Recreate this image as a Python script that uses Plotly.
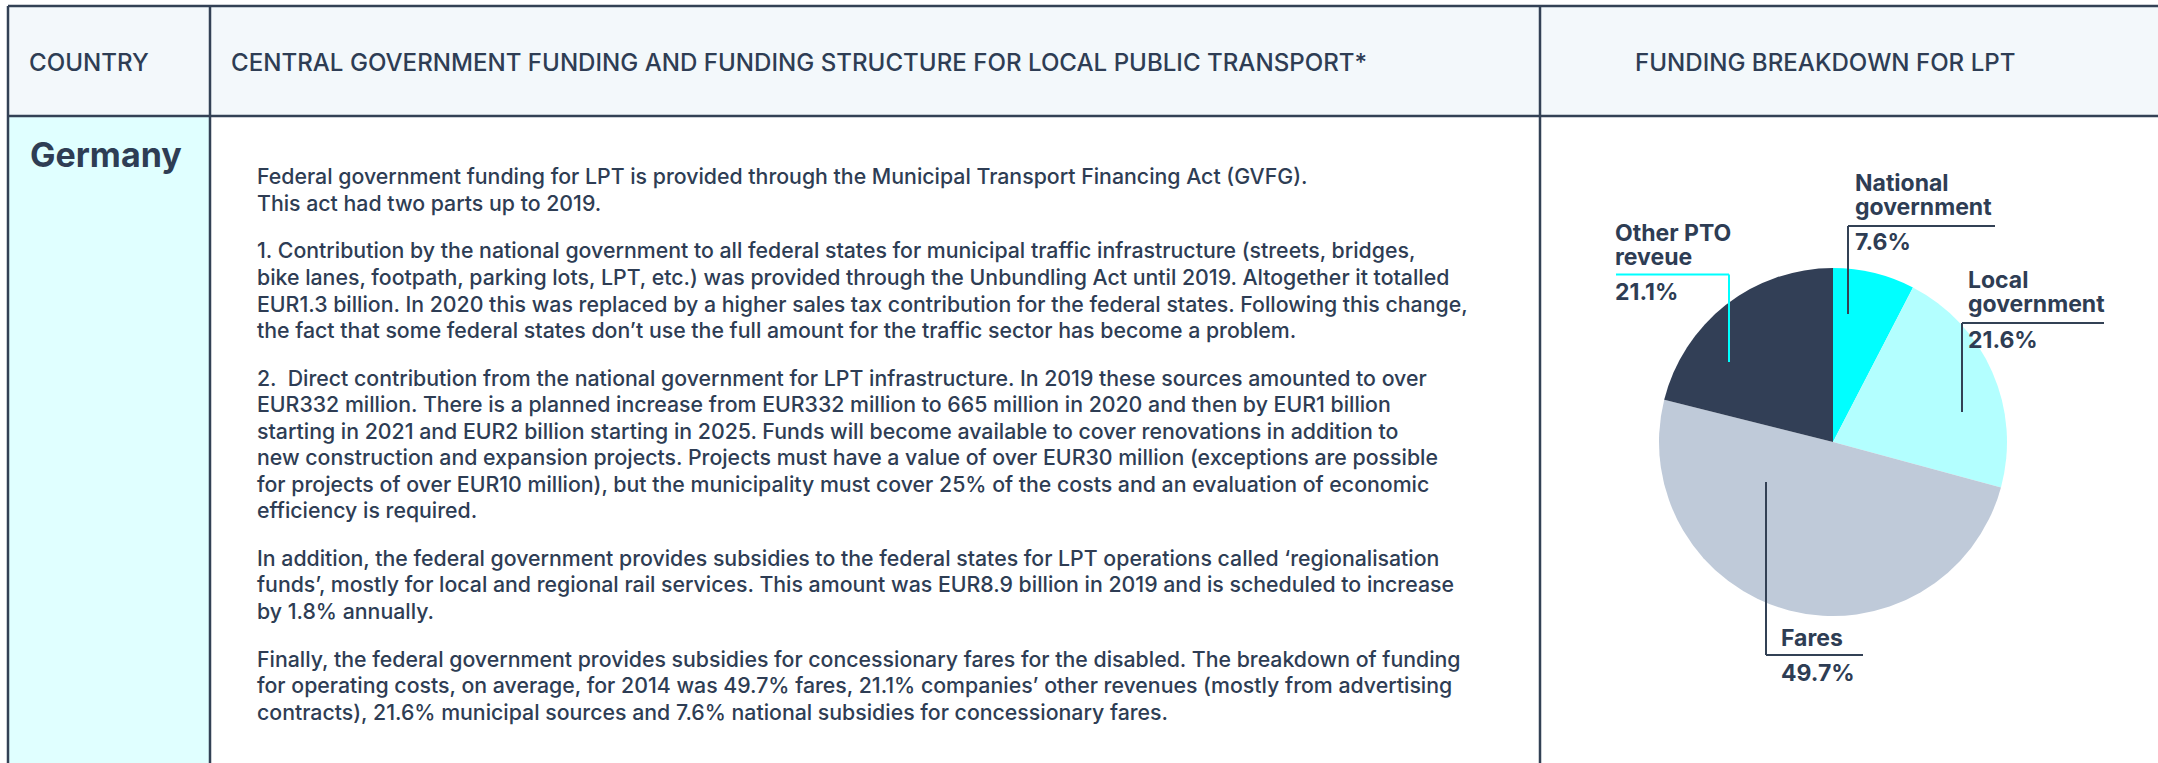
import plotly.graph_objects as go

W, H = 2158, 763

# ---------------- data ----------------
headers = ["COUNTRY",
           "CENTRAL GOVERNMENT FUNDING AND FUNDING STRUCTURE FOR LOCAL PUBLIC TRANSPORT*",
           "FUNDING BREAKDOWN FOR LPT"]
country = "Germany"

paragraphs = [
    ["Federal government funding for LPT is provided through the Municipal Transport Financing Act (GVFG).",
     "This act had two parts up to 2019."],
    ["1. Contribution by the national government to all federal states for municipal traffic infrastructure (streets, bridges,",
     "bike lanes, footpath, parking lots, LPT, etc.) was provided through the Unbundling Act until 2019. Altogether it totalled",
     "EUR1.3 billion. In 2020 this was replaced by a higher sales tax contribution for the federal states. Following this change,",
     "the fact that some federal states don\u2019t use the full amount for the traffic sector has become a problem."],
    ["2.  Direct contribution from the national government for LPT infrastructure. In 2019 these sources amounted to over",
     "EUR332 million. There is a planned increase from EUR332 million to 665 million in 2020 and then by EUR1 billion",
     "starting in 2021 and EUR2 billion starting in 2025. Funds will become available to cover renovations in addition to",
     "new construction and expansion projects. Projects must have a value of over EUR30 million (exceptions are possible",
     "for projects of over EUR10 million), but the municipality must cover 25% of the costs and an evaluation of economic",
     "efficiency is required."],
    ["In addition, the federal government provides subsidies to the federal states for LPT operations called \u2018regionalisation",
     "funds\u2019, mostly for local and regional rail services. This amount was EUR8.9 billion in 2019 and is scheduled to increase",
     "by 1.8% annually."],
    ["Finally, the federal government provides subsidies for concessionary fares for the disabled. The breakdown of funding",
     "for operating costs, on average, for 2014 was 49.7% fares, 21.1% companies\u2019 other revenues (mostly from advertising",
     "contracts), 21.6% municipal sources and 7.6% national subsidies for concessionary fares."],
]

slice_labels = ["National government", "Local government", "Fares", "Other PTO reveue"]
slice_label_lines = [["National", "government"], ["Local", "government"], ["Fares"], ["Other PTO", "reveue"]]
slice_values = [7.6, 21.6, 49.7, 21.1]
slice_colors = ["#00ffff", "#b3ffff", "#bfcad9", "#323f56"]

# ---------------- style ----------------
INK = "#2e3d54"
LINE = "#334155"
FONT = "Inter"
PAD = 3  # annotation box padding compensation

def px(x):
    return x / W

def py(y):
    return 1 - y / H

annotations = []

def text(x, baseline, s, size, bold=False, color=INK, weight=None):
    if bold:
        s = "<b>" + s + "</b>"
    f = dict(family=FONT, size=size, color=color)
    if weight:
        f["weight"] = weight
    annotations.append(dict(
        x=px(x - PAD), y=py(baseline - 0.36 * size), xref="paper", yref="paper",
        xanchor="left", yanchor="middle", text=s, showarrow=False,
        font=f, align="left"))

shapes = []

def rect(x0, y0, x1, y1, fill):
    shapes.append(dict(type="rect", xref="paper", yref="paper",
                       x0=px(x0), x1=px(x1), y0=py(y1), y1=py(y0),
                       fillcolor=fill, line=dict(width=0), layer="below"))

def seg(x0, y0, x1, y1, color=LINE, width=2.5):
    shapes.append(dict(type="line", xref="paper", yref="paper",
                       x0=px(x0), x1=px(x1), y0=py(y0), y1=py(y1),
                       line=dict(color=color, width=width)))

# table backgrounds
rect(8, 6, W, 116, "#f3f8fb")
rect(8, 116, 210, H, "#e0ffff")

# table lines
seg(8, 6, W, 6)
seg(8, 116, W, 116)
seg(8, 6, 8, H)
seg(210, 6, 210, H)
seg(1540, 6, 1540, H)

# headers
text(30, 71, headers[0], 24.1, weight=500)
text(232, 71, headers[1], 24.1, weight=500)
text(1636, 71, headers[2], 24.1, weight=500)

# country
text(31, 167, country, 34, bold=True)

# paragraphs
baseline = 184
step, gap = 26.55, 21
for p in paragraphs:
    for line in p:
        text(258, baseline, line, 21.3, weight=500)
        baseline += step
    baseline += gap

# pie
cx, cy, r = 1833, 442, 174
fig = go.Figure(go.Pie(
    labels=slice_labels, values=slice_values, sort=False, direction="clockwise",
    marker=dict(colors=slice_colors, line=dict(width=0)), textinfo="none",
    showlegend=False, hole=0,
    domain=dict(x=[px(cx - r), px(cx + r)], y=[py(cy + r), py(cy - r)])))

# pie labels: (text x, first baseline, line-gap, pct baseline)
label_pos = [
    (1856, 191, 24.2, 250),
    (1969, 288, 24.5, 348),
    (1782, 646, 0, 681),
    (1616, 241.5, 24.2, 300),
]
for lines, v, (lx, b0, lg, pb) in zip(slice_label_lines, slice_values, label_pos):
    for i, ln in enumerate(lines):
        text(lx, b0 + i * lg, ln, 23, bold=True)
    text(lx, pb, f"{v}%", 23, bold=True)

# leader lines
seg(1848, 226, 1995, 226, width=2)
seg(1848, 226, 1848, 314, width=2)
seg(1962, 323, 2104, 323, width=2)
seg(1962, 323, 1962, 412, width=2)
seg(1616, 274.5, 1729, 274.5, color="#00ffff", width=2)
seg(1729, 274.5, 1729, 362, color="#00ffff", width=2)
seg(1766, 482, 1766, 655, width=2)
seg(1766, 655, 1863, 655, width=2)

fig.update_layout(
    width=W, height=H, autosize=False,
    margin=dict(l=0, r=0, t=0, b=0),
    paper_bgcolor="white", plot_bgcolor="white",
    shapes=shapes, annotations=annotations,
)

fig.write_html("out.html", config={"displayModeBar": False},
               post_script="document.body.style.margin='0';")
